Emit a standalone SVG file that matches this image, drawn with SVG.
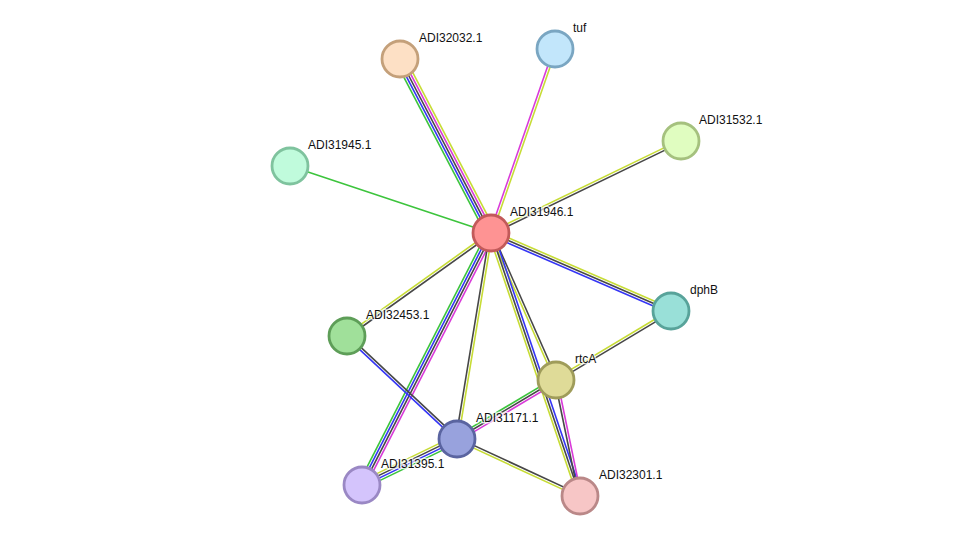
<svg xmlns="http://www.w3.org/2000/svg" width="975" height="542" viewBox="0 0 975 542">
<style>
line{stroke-width:1.6;fill:none}
.g{stroke:#3cc43c}.b{stroke:#3535f5}.k{stroke:#474747}.m{stroke:#d93ad9}.y{stroke:#c7dc35}
circle{stroke-width:2.8}
text{font-family:"Liberation Sans",Arial,sans-serif;font-size:12px;fill:#111;stroke:#fff;stroke-width:3;stroke-opacity:0.7;paint-order:stroke;stroke-linejoin:round}
</style>
<rect width="975" height="542" fill="#fff"/>
<g id="connectors">
<g transform="translate(400,59) rotate(62.39)"><line class="g" x1="0" y1="5" x2="196.4" y2="5"/><line class="b" x1="0" y1="2.5" x2="196.4" y2="2.5"/><line class="k" x1="0" y1="0" x2="196.4" y2="0"/><line class="m" x1="0" y1="-2.5" x2="196.4" y2="-2.5"/><line class="y" x1="0" y1="-5" x2="196.4" y2="-5"/></g>
<g transform="translate(555,49) rotate(109.18)"><line class="m" x1="0" y1="1.25" x2="194.8" y2="1.25"/><line class="y" x1="0" y1="-1.25" x2="194.8" y2="-1.25"/></g>
<g transform="translate(491,233) rotate(-25.84)"><line class="y" x1="0" y1="-1.25" x2="211.1" y2="-1.25"/><line class="k" x1="0" y1="1.25" x2="211.1" y2="1.25"/></g>
<line class="g" x1="290" y1="166" x2="491" y2="233"/>
<g transform="translate(491,233) rotate(23.43)"><line class="y" x1="0" y1="-2.5" x2="196.2" y2="-2.5"/><line class="k" x1="0" y1="0" x2="196.2" y2="0"/><line class="b" x1="0" y1="2.5" x2="196.2" y2="2.5"/></g>
<g transform="translate(491,233) rotate(144.43)"><line class="y" x1="0" y1="1.25" x2="177" y2="1.25"/><line class="k" x1="0" y1="-1.25" x2="177" y2="-1.25"/></g>
<g transform="translate(491,233) rotate(117.11)"><line class="g" x1="0" y1="3.75" x2="283.1" y2="3.75"/><line class="b" x1="0" y1="1.25" x2="283.1" y2="1.25"/><line class="k" x1="0" y1="-1.25" x2="283.1" y2="-1.25"/><line class="m" x1="0" y1="-3.75" x2="283.1" y2="-3.75"/></g>
<g transform="translate(491,233) rotate(99.37)"><line class="k" x1="0" y1="1.25" x2="208.8" y2="1.25"/><line class="y" x1="0" y1="-1.25" x2="208.8" y2="-1.25"/></g>
<g transform="translate(491,233) rotate(66.15)"><line class="y" x1="0" y1="1.25" x2="160.7" y2="1.25"/><line class="k" x1="0" y1="-1.25" x2="160.7" y2="-1.25"/></g>
<g transform="translate(491,233) rotate(71.31)"><line class="y" x1="0" y1="2.5" x2="277.7" y2="2.5"/><line class="k" x1="0" y1="0" x2="277.7" y2="0"/><line class="b" x1="0" y1="-2.5" x2="277.7" y2="-2.5"/></g>
<g transform="translate(347,336) rotate(43.12)"><line class="b" x1="0" y1="1.25" x2="150.7" y2="1.25"/><line class="k" x1="0" y1="-1.25" x2="150.7" y2="-1.25"/></g>
<g transform="translate(362,485) rotate(-25.84)"><line class="y" x1="0" y1="-3.75" x2="105.6" y2="-3.75"/><line class="k" x1="0" y1="-1.25" x2="105.6" y2="-1.25"/><line class="b" x1="0" y1="1.25" x2="105.6" y2="1.25"/><line class="g" x1="0" y1="3.75" x2="105.6" y2="3.75"/></g>
<g transform="translate(457,439) rotate(-30.79)"><line class="g" x1="0" y1="-2.5" x2="115.2" y2="-2.5"/><line class="k" x1="0" y1="0" x2="115.2" y2="0"/><line class="m" x1="0" y1="2.5" x2="115.2" y2="2.5"/></g>
<g transform="translate(457,439) rotate(24.86)"><line class="k" x1="0" y1="-1.25" x2="135.6" y2="-1.25"/><line class="y" x1="0" y1="1.25" x2="135.6" y2="1.25"/></g>
<g transform="translate(556,380) rotate(-30.96)"><line class="y" x1="0" y1="-1.25" x2="134.1" y2="-1.25"/><line class="k" x1="0" y1="1.25" x2="134.1" y2="1.25"/></g>
<g transform="translate(556,380) rotate(78.31)"><line class="k" x1="0" y1="1.25" x2="118.5" y2="1.25"/><line class="m" x1="0" y1="-1.25" x2="118.5" y2="-1.25"/></g>
</g>
<g id="ADI31946.1"><circle cx="491" cy="233" r="18" fill="#fe9393" stroke="#c25a5a"/><text x="510" y="216">ADI31946.1</text></g>
<g id="ADI32032.1"><circle cx="400" cy="59" r="18" fill="#fde0c5" stroke="#c4a07a"/><text x="419" y="42">ADI32032.1</text></g>
<g id="tuf"><circle cx="555" cy="49" r="18" fill="#c2e6fb" stroke="#7aa6c2"/><text x="573" y="32">tuf</text></g>
<g id="ADI31532.1"><circle cx="681" cy="141" r="18" fill="#e0fdc0" stroke="#a5c17e"/><text x="699" y="124">ADI31532.1</text></g>
<g id="ADI31945.1"><circle cx="290" cy="166" r="18" fill="#c0fbdc" stroke="#7fc39e"/><text x="308" y="149">ADI31945.1</text></g>
<g id="dphB"><circle cx="671" cy="311" r="18" fill="#99e0d8" stroke="#58a39a"/><text x="690" y="294">dphB</text></g>
<g id="ADI32453.1"><circle cx="347" cy="336" r="18" fill="#a0e09a" stroke="#5e9e58"/><text x="366" y="319">ADI32453.1</text></g>
<g id="rtcA"><circle cx="556" cy="380" r="18" fill="#dfdb98" stroke="#9f9c5a"/><text x="575" y="363">rtcA</text></g>
<g id="ADI31171.1"><circle cx="457" cy="439" r="18" fill="#98a2dd" stroke="#5a64a0"/><text x="476" y="422">ADI31171.1</text></g>
<g id="ADI31395.1"><circle cx="362" cy="485" r="18" fill="#d4c4fc" stroke="#9a88c4"/><text x="381" y="468">ADI31395.1</text></g>
<g id="ADI32301.1"><circle cx="580" cy="496" r="18" fill="#f7c6c6" stroke="#ba8888"/><text x="599" y="479">ADI32301.1</text></g>
</svg>
